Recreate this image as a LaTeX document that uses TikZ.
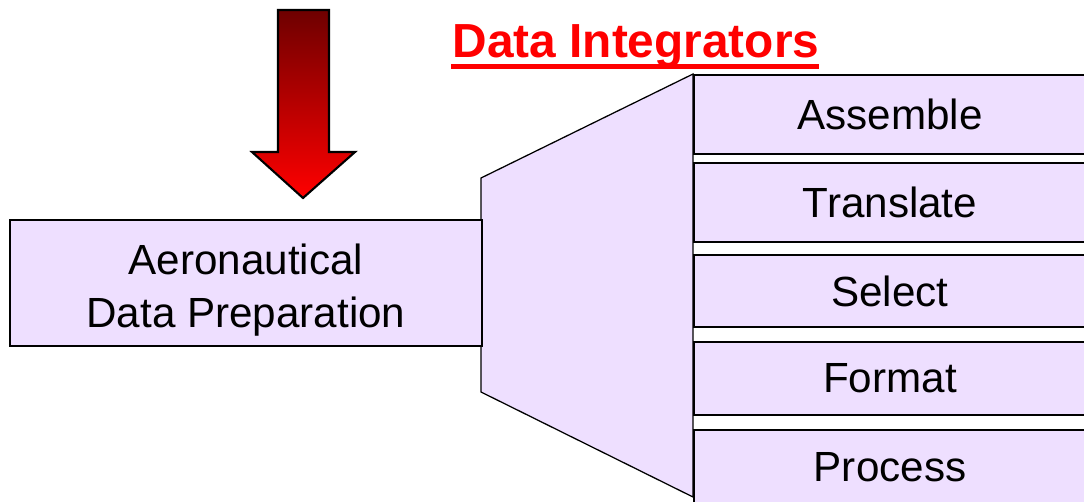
\documentclass[tikz,border=0pt]{standalone}
\usepackage{fontspec}
\setmainfont{Liberation Sans}
\definecolor{lavender}{RGB}{238,223,255}
\definecolor{darkred}{RGB}{110,0,0}
\begin{document}
\begin{tikzpicture}[x=0.025cm,y=-0.025cm,
	stagebox/.style={draw=black,line width=1.8pt,fill=lavender,minimum width=9.8cm,inner sep=0pt,font=\fontsize{30}{37}\selectfont},
	prepbox/.style={draw=black,line width=1.5pt,fill=lavender}]
	\clip (0,0) rectangle (1084,501);
	% funnel behind the boxes
	\filldraw[fill=lavender,draw=black,line width=0.9pt] (481,178)--(693,74)--(693,497)--(481,392)--cycle;
	\draw[prepbox] (10,220) rectangle (482,346);
	\node[align=center,font=\fontsize{30}{38}\selectfont] (prep) at (246,290) {Aeronautical\\Data Preparation};
	\node[stagebox,minimum height=1.975cm] (assemble) at (890,114.5) {Assemble};
	\node[stagebox,minimum height=1.975cm] (translate) at (890,202.5) {Translate};
	\node[stagebox,minimum height=1.8cm] (select) at (890,291) {Select};
	\node[stagebox,minimum height=1.825cm] (format) at (890,378.5) {Format};
	\node[stagebox,minimum height=1.85cm] (process) at (890,467) {Process};
	% big input arrow
	\shadedraw[top color=darkred,bottom color=red,draw=black,line width=1.5pt,line join=miter]
		(278,10)--(329,10)--(329,152)--(355,152)--(303,198)--(252,152)--(278,152)--cycle;
	\node[text=red,inner sep=0pt,anchor=base,font=\fontsize{34}{40}\selectfont\bfseries] (title) at (636,57) {Data Integrators};
	\draw[red,line width=3.6pt] (451,66.5)--(819,66.5);
\end{tikzpicture}
\end{document}
